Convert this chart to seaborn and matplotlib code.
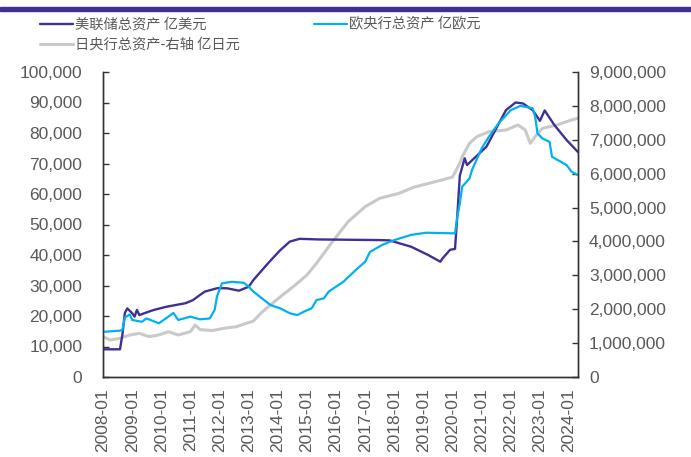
import pandas as pd
import matplotlib.pyplot as plt
import matplotlib.dates as mdates
from matplotlib.ticker import FuncFormatter
from matplotlib.patches import Rectangle
import seaborn as sns

# Fed total assets (100m USD, left axis)
fed_dates = ["2008-01", "2008-08", "2008-09", "2008-10", "2008-11", "2009-01", "2009-02", "2009-03",
             "2009-04", "2009-06", "2009-10", "2010-03", "2010-07", "2010-11", "2011-02", "2011-05",
             "2011-07", "2011-12", "2012-04", "2012-09", "2013-01", "2013-03", "2013-09", "2014-02",
             "2014-06", "2014-10", "2015-06", "2016-06", "2017-06", "2017-11", "2018-08", "2019-03",
             "2019-08", "2019-09", "2019-12", "2020-02", "2020-03", "2020-04", "2020-06", "2020-07",
             "2020-12", "2021-03", "2021-07", "2021-11", "2022-03", "2022-06", "2022-10", "2023-01",
             "2023-03", "2023-07", "2023-12", "2024-04-20"]
fed_vals = [9080, 9080, 14000, 21000, 22500, 20900, 19800, 22000,
            20300, 20900, 22000, 23000, 23600, 24200, 25200, 26900,
            28000, 29100, 29100, 28300, 29600, 31800, 37300, 41600,
            44400, 45300, 45100, 45000, 44900, 44800, 42700, 40000,
            37800, 39000, 41700, 42000, 53000, 66000, 71700, 69500,
            73300, 75500, 81500, 87500, 90000, 89700, 87500, 84000,
            87400, 82600, 77700, 73800]

# ECB total assets (100m EUR, left axis)
ecb_dates = ["2008-01", "2008-08", "2008-09", "2008-10", "2008-12", "2009-01", "2009-05", "2009-07",
             "2009-12", "2010-04", "2010-06", "2010-08", "2011-01", "2011-05", "2011-09", "2011-11",
             "2011-12", "2012-02", "2012-06", "2012-11", "2013-01", "2013-03", "2013-06", "2013-10",
             "2014-02", "2014-06", "2014-09", "2014-12", "2015-03", "2015-05", "2015-08", "2015-10",
             "2016-04", "2016-09", "2017-01", "2017-03", "2017-08", "2018-01", "2018-08", "2019-02",
             "2020-02", "2020-03", "2020-04", "2020-05", "2020-08", "2020-09", "2021-01", "2021-04",
             "2021-08", "2022-01", "2022-05", "2022-10", "2022-11", "2022-12", "2023-02", "2023-05",
             "2023-06", "2023-12", "2024-02", "2024-04-20"]
ecb_vals = [14800, 15200, 15500, 19500, 20500, 18700, 18100, 19200,
            17600, 19800, 21000, 18700, 19800, 18900, 19200, 22000,
            26500, 30700, 31200, 30900, 29600, 28000, 26100, 23600,
            22500, 20900, 20300, 21500, 22500, 25200, 25800, 28000,
            31200, 35000, 37800, 41000, 43300, 44900, 46600, 47300,
            47100, 52600, 56900, 62400, 65100, 67900, 75000, 78800,
            83200, 87500, 88900, 88100, 85400, 79900, 78200, 77100,
            72200, 69500, 67300, 66200]

# BOJ total assets (100m JPY, right axis)
boj_dates = ["2008-01", "2008-04", "2008-08", "2008-12", "2009-04", "2009-08", "2009-12", "2010-04",
             "2010-08", "2011-01", "2011-03", "2011-05", "2011-10", "2012-03", "2012-08", "2012-12",
             "2013-03", "2013-06", "2013-10", "2014-03", "2014-08", "2015-01", "2015-05", "2015-11",
             "2016-06", "2017-01", "2017-07", "2018-03", "2018-09", "2019-06", "2020-01", "2020-04",
             "2020-05", "2020-08", "2020-11", "2021-04", "2021-11", "2022-04", "2022-07", "2022-09",
             "2022-11", "2023-02", "2023-08", "2024-02", "2024-04-20"]
boj_vals = [1190000, 1092000, 1142000, 1240000, 1288000, 1190000, 1240000, 1337000,
            1240000, 1337000, 1534000, 1400000, 1370000, 1437000, 1486000, 1584000,
            1650000, 1880000, 2125000, 2420000, 2700000, 3010000, 3355000, 3945000,
            4584000, 5027000, 5273000, 5420000, 5600000, 5765000, 5900000, 6306000,
            6500000, 6896000, 7092000, 7239000, 7288000, 7436000, 7288000, 6896000,
            7092000, 7338000, 7436000, 7584000, 7633000]

labels = ["美联储总资产 亿美元", "欧央行总资产 亿欧元", "日央行总资产-右轴 亿日元"]
colors = ["#3f3193", "#00b0f0", "#c9c9c9"]
grey = "#595959"


def to_dt(d):
    return pd.to_datetime(d, format="mixed")


sns.set_theme(style="white")
plt.rcParams['font.family'] = ['Liberation Sans', 'Noto Sans CJK SC', 'DejaVu Sans']

fig = plt.figure(figsize=(6.91, 4.57), dpi=100)
fig.patches.append(Rectangle((0, 1 - 10.7 / 457), 1, 4 / 457, transform=fig.transFigure,
                             color=colors[0], zorder=5))

ax = fig.add_axes([103 / 691, 1 - 377 / 457, 475 / 691, 305 / 457])
ax2 = ax.twinx()

sns.lineplot(x=to_dt(boj_dates), y=boj_vals, ax=ax2, color=colors[2], linewidth=2.2)
sns.lineplot(x=to_dt(fed_dates), y=fed_vals, ax=ax, color=colors[0], linewidth=1.7)
sns.lineplot(x=to_dt(ecb_dates), y=ecb_vals, ax=ax, color=colors[1], linewidth=1.6)

# put the BOJ line behind the left-axis lines
ax.set_zorder(ax2.get_zorder() + 1)
ax.patch.set_visible(False)

ax.set_xlim(pd.Timestamp("2008-01-01"), pd.Timestamp("2024-04-22"))
ax.set_ylim(0, 100000)
ax2.set_ylim(0, 9000000)
ax.set_yticks(range(0, 100001, 10000))
ax2.set_yticks(range(0, 9000001, 1000000))
ax.xaxis.set_major_locator(mdates.YearLocator())
ax.xaxis.set_major_formatter(mdates.DateFormatter("%Y-%m"))
comma = FuncFormatter(lambda v, p: f"{int(v):,}")
ax.yaxis.set_major_formatter(comma)
ax2.yaxis.set_major_formatter(comma)

for a in (ax, ax2):
    a.set_xlabel("")
    a.set_ylabel("")
    a.spines['top'].set_visible(False)
    for s in a.spines.values():
        s.set_color("#333333")
        s.set_linewidth(1.0)
    a.tick_params(direction='in', length=4, width=1, color="#333333",
                  labelcolor=grey, labelsize=12.5)
ax.tick_params(axis='x', rotation=90, pad=8)
ax.tick_params(axis='y', pad=15)
ax2.tick_params(axis='y', pad=8)

handles = [plt.Line2D([], [], color=colors[0], lw=1.7),
           plt.Line2D([], [], color=colors[2], lw=2.2),
           plt.Line2D([], [], color=colors[1], lw=1.6)]
leg = fig.legend(handles, [labels[0], labels[2], labels[1]], ncol=2, loc='upper left',
                 bbox_to_anchor=(0.039, 0.99), frameon=False,
                 handlelength=2.3, handletextpad=0.15, columnspacing=5.2, labelspacing=0.45,
                 prop={'family': ['Noto Sans CJK SC'], 'size': 10.3})
for t in leg.get_texts():
    t.set_color(grey)

fig.savefig("out.png", dpi=100)
